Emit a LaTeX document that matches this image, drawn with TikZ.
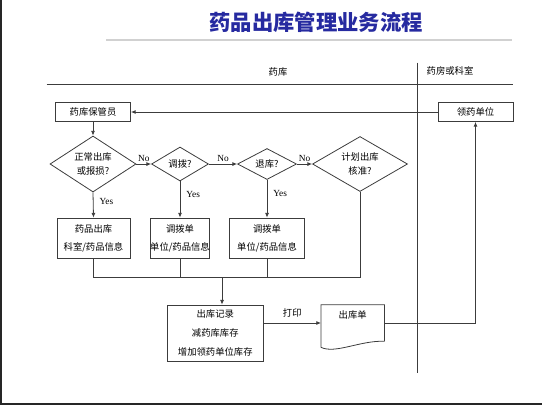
\documentclass[tikz,border=0pt]{standalone}
\usepackage{fontspec}
\setmainfont{Liberation Serif}
\newfontfamily\cjk{Noto Sans CJK SC}
\usetikzlibrary{shapes.geometric,arrows.meta}
\definecolor{titleblue}{RGB}{38,42,160}
\definecolor{linegray}{RGB}{60,60,60}
\tikzset{
  box/.style={draw=linegray, line width=0.6pt, font=\cjk\fontsize{7}{13.5}\selectfont, align=center, inner sep=0pt},
  decision/.style={draw=linegray, diamond, aspect=1.6, line width=0.6pt, font=\cjk\fontsize{7}{11}\selectfont, align=center, inner sep=0pt},
  conn/.style={draw=linegray, line width=0.6pt},
  arr/.style={conn, -{Latex[length=3.5pt,width=3pt]}},
  lab/.style={font=\fontsize{7}{8}\selectfont, inner sep=1.5pt},
  lane/.style={font=\cjk\fontsize{7}{8}\selectfont}
}
\begin{document}
\begin{tikzpicture}[x=0.75pt,y=-0.75pt]
\useasboundingbox (0,0) rectangle (542,405);
% frame and title
\draw[line width=1.5pt, black!85] (0.9,0) -- (0.9,404) -- (542,404);
\node[font=\cjk\bfseries\fontsize{16}{18}\selectfont, text=titleblue] (title) at (316,22) {药品出库管理业务流程};
\draw[line width=1.5pt, black!18] (106,40) -- (512,40);
% lanes
\draw[conn] (46.7,84.3) -- (513,84.3);
\draw[conn] (417.3,62.7) -- (417.3,373.3);
\node[lane] (yk) at (278,72) {药库};
\node[lane] (yfks) at (450,71) {药房或科室};
% nodes
\node[box, minimum width=56.25pt, minimum height=14.25pt] (kbgy) at (93,112) {药库保管员};
\node[box, minimum width=56.25pt, minimum height=14.25pt] (lydw) at (475.5,112) {领药单位};
\node[decision, minimum width=64.5pt, minimum height=42pt] (d1) at (93,164) {正常出库\\或报损?};
\node[decision, minimum width=42.75pt, minimum height=25.5pt] (d2) at (180,164) {调拨?};
\node[decision, minimum width=44.25pt, minimum height=23.25pt] (d3) at (267,164) {退库?};
\node[decision, minimum width=71.25pt, minimum height=41.25pt] (d4) at (360,164) {计划出库\\核准?};
\node[box, minimum width=54.75pt, minimum height=30pt] (box1) at (93.5,238) {药品出库\\科室/药品信息};
\node[box, minimum width=42.75pt, minimum height=30pt] (box2) at (180,238) {调拨单\\单位/药品信息};
\node[box, minimum width=56.25pt, minimum height=30pt] (box3) at (267,238) {调拨单\\单位/药品信息};
\node[box, minimum width=72pt, minimum height=42pt, font=\cjk\fontsize{7}{14}\selectfont] (ckjl) at (215.3,333) {出库记录\\减药库库存\\增加领药单位库存};
% document
\node[minimum width=47.25pt, minimum height=27pt, inner sep=0pt] (ckd) at (352.7,323) {};
\draw[conn] (ckd.south east) -- (ckd.north east) -- (ckd.north west) -- ([yshift=-4.5pt]ckd.south west)
  .. controls ([xshift=10.5pt,yshift=-9.75pt]ckd.south west) and ([xshift=-18pt,yshift=0.75pt]ckd.south east) .. (ckd.south east);
\node[lane, anchor=north, inner sep=0pt] (ckdt) at ([yshift=-4pt]ckd.north) {出库单};
% connectors
\draw[arr] (lydw.west) -- (kbgy.east);
\draw[arr] (kbgy.south) -- (d1.north);
\draw[arr] (d1.east) -- node[lab, above] (no1) {No} (d2.west);
\draw[arr] (d2.east) -- node[lab, above] (no2) {No} (d3.west);
\draw[arr] (d3.east) -- node[lab, above] (no3) {No} (d4.west);
\draw[arr] (d1.south) -- node[lab, right, pos=0.35, xshift=3pt] (yes1) {Yes} (box1.north);
\draw[arr] (d2.south) -- node[lab, right, pos=0.35, xshift=3pt] (yes2) {Yes} (box2.north);
\draw[arr] (d3.south) -- node[lab, right, pos=0.35, xshift=3pt] (yes3) {Yes} (box3.north);
\coordinate (busl) at (93.5,277.3);
\coordinate (busr) at (360,277.3);
\coordinate (busm) at (222,277.3);
\draw[conn] (box1.south) -- (busl) -- (busr) -- (d4.south);
\draw[conn] (box2.south) -- (box2.south |- busl);
\draw[conn] (box3.south) -- (box3.south |- busl);
\draw[arr] (busm) -- (busm |- ckjl.north);
\draw[arr] (ckd.west -| ckjl.east) -- node[lane, above, yshift=1pt] (dy) {打印} (ckd.west);
\draw[arr] (ckd.east) -| (lydw.south);
\end{tikzpicture}
\end{document}
